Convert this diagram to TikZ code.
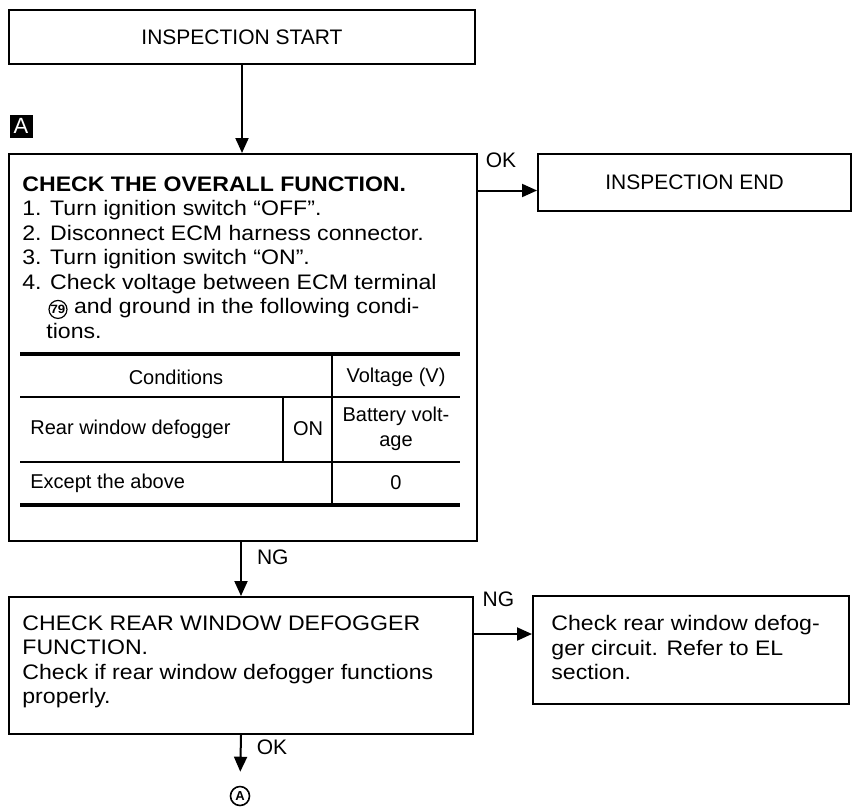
\documentclass[tikz,border=0pt]{standalone}
\usepackage{fontspec}
\setmainfont{Liberation Sans}
\newfontfamily\bodyfont[FakeStretch=1.1]{Liberation Sans}
\usetikzlibrary{arrows.meta, positioning}
\tikzset{
    font=\fontsize{10}{12.25}\selectfont,
    >={Triangle[length=7.5pt,width=6.5pt]},
    % Boxes
    box/.style={rectangle, draw, line width=1pt, anchor=north west, inner sep=0pt,
                font=\fontsize{10.5}{12.25}\selectfont},
    txt/.style={anchor=north west, align=left, inner sep=0pt,
                font=\bodyfont\fontsize{10.5}{12.25}\selectfont},
    tag/.style={rectangle, fill=black, text=white, minimum size=11.5pt, inner sep=0pt,
                font=\fontsize{11}{11}\selectfont},
    % Table
    thickrule/.style={line width=2pt},
    thinrule/.style={line width=0.8pt},
    % Flow & Labels
    flow/.style={->, line width=1pt},
    lbl/.style={inner sep=1pt, font=\fontsize{10.5}{12}\selectfont}
}
\newcommand{\cnum}[1]{\tikz[baseline=(cn.base)]\node[draw, circle, line width=0.6pt, inner sep=0pt,
    minimum size=9pt, font=\bfseries\fontsize{6}{6}\selectfont] (cn) {#1};}

\begin{document}
\begin{tikzpicture}[x=0.5pt, y=-0.5pt]
\useasboundingbox (0,0) rectangle (854,808);

\node[box, minimum width=233pt, minimum height=27pt] (start) at (8,9) {INSPECTION START};
\node[tag] (stepA) at (21,126) {A};

\node[box, minimum width=234pt, minimum height=193.5pt] (check) at (8,153) {};
\node[txt] (checktxt) at (22,176) {\textbf{CHECK THE OVERALL FUNCTION.}\\
1. Turn ignition switch “OFF”.\\
2. Disconnect ECM harness connector.\\
3. Turn ignition switch “ON”.\\
4. Check voltage between ECM terminal\\
\hspace*{13pt}\cnum{79} and ground in the following condi-\\
\hspace*{12pt}tions.};

% Table
\draw[thickrule] (20,354) -- (460,354);
\draw[thinrule] (20,397) -- (460,397);
\draw[thinrule] (20,462) -- (460,462);
\draw[thickrule] (20,505) -- (460,505);
\draw[thinrule] (332,354) -- (332,505);
\draw[thinrule] (283,397) -- (283,462);
\node (cond) at (176,377) {Conditions};
\node (volt) at (396,377) {Voltage (V)};
\node[anchor=west, inner sep=0pt] (rear) at (30,429) {Rear window defogger};
\node (on) at (308,429) {ON};
\node[align=center] (batt) at (396,429) {Battery volt-\\age};
\node[anchor=west, inner sep=0pt] (except) at (30,483) {Except the above};
\node (zero) at (396,483) {0};

\node[box, minimum width=156.5pt, minimum height=28.5pt] (endbox) at (537,153) {INSPECTION END};

\node[box, minimum width=232pt, minimum height=68.5pt] (defog) at (8,596) {};
\node[txt] (defogtxt) at (22,615) {CHECK REAR WINDOW DEFOGGER\\
FUNCTION.\\
Check if rear window defogger functions\\
properly.};

\node[box, minimum width=158pt, minimum height=54pt] (refer) at (532,595) {};
\node[txt] (refertxt) at (551,615) {Check rear window defog-\\
ger circuit. Refer to EL\\
section.};

\node[circle, draw, line width=0.8pt, inner sep=0pt, minimum size=9.5pt,
      font=\bfseries\fontsize{6.5}{6.5}\selectfont] (contA) at (240,796) {A};

\coordinate (okpt) at ([yshift=-4pt]endbox.west);
\coordinate (ngpt) at ([yshift=8pt]refer.west);

\draw[flow] (start.south) -- (start.south |- check.north);
\draw[flow] (check.east |- okpt) -- node[lbl, above=10pt, pos=0.39] {OK} (okpt);
\draw[flow] (defog.north |- check.south) -- node[lbl, right=6.5pt, pos=0.29] {NG} (defog.north);
\draw[flow] (defog.east |- ngpt) -- node[lbl, above=12pt, pos=0.42] {NG} (ngpt);
\draw[flow, shorten >=7pt] (defog.south) -- node[lbl, right=6.5pt, pos=0.24] {OK} (contA.north);

\end{tikzpicture}
\end{document}
